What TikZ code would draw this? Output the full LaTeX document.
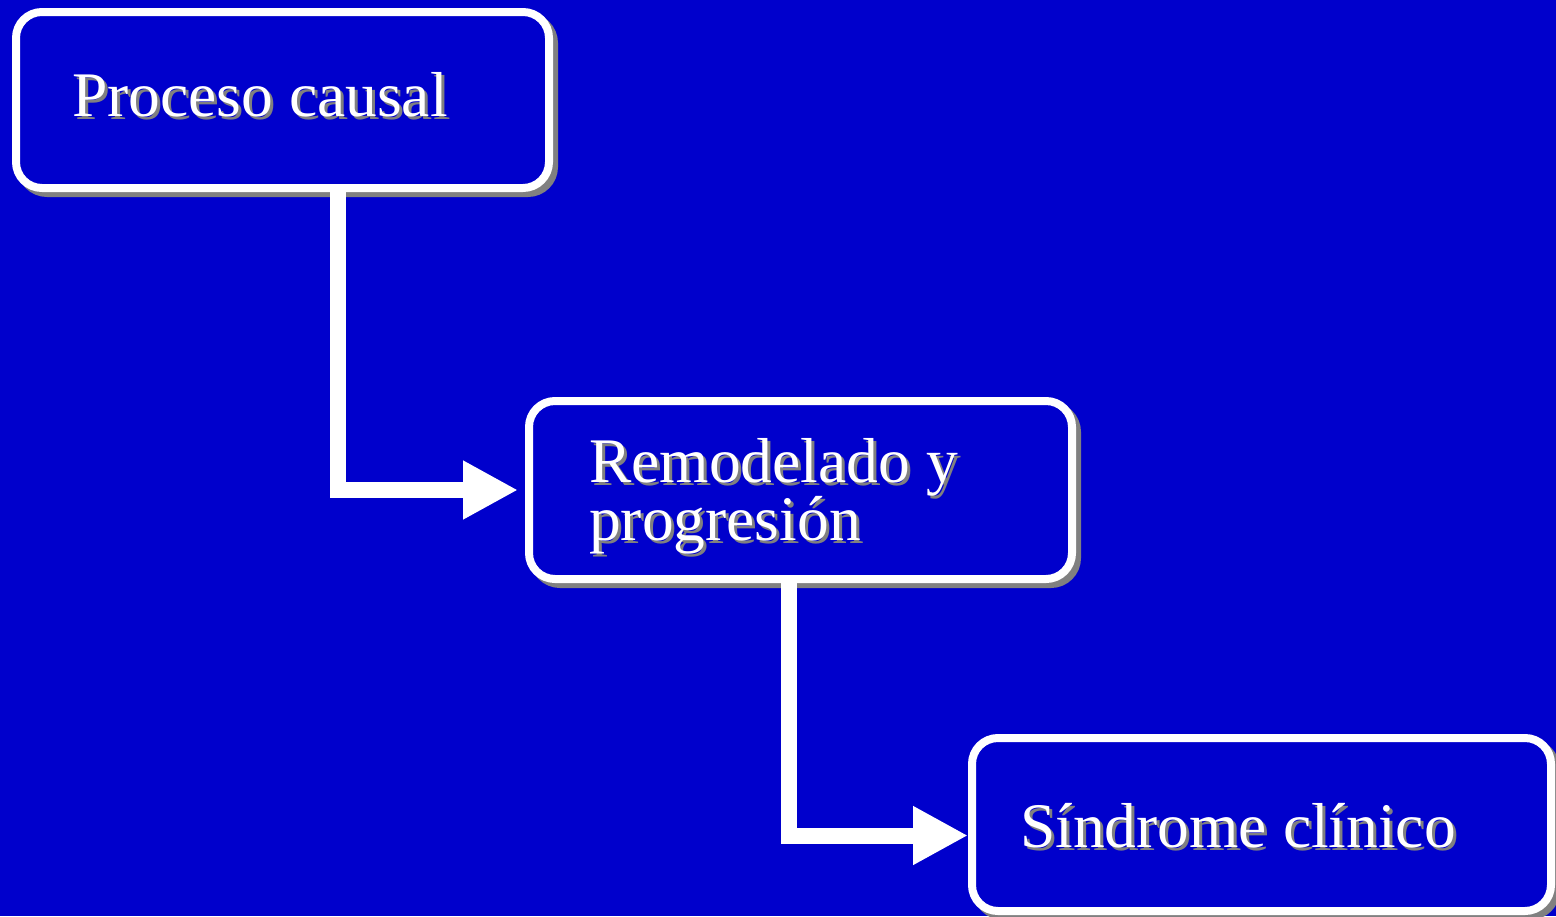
\documentclass[tikz,border=0pt]{standalone}
\usepackage{fontspec}
\setmainfont{Liberation Serif}
\usetikzlibrary{arrows.meta}
\definecolor{bg}{RGB}{0,0,204}
\definecolor{shade}{RGB}{128,128,128}
\tikzset{
  box/.style={draw=white, fill=bg, line width=8pt, rounded corners=26pt, inner sep=0pt},
  boxshadow/.style={draw=shade, fill=shade, line width=8pt, rounded corners=26pt, inner sep=0pt},
  label/.style={text=white, inner sep=0pt, anchor=base west, align=left, font=\fontsize{63.5}{58}\selectfont},
  labelshadow/.style={label, text=shade},
  conn/.style={draw=white, line width=16pt, line join=miter, line cap=butt,
    -{Triangle[length=55pt, width=55pt]}},
}
\begin{document}
\begin{tikzpicture}[x=1pt, y=-1pt]
\fill[bg] (0,0) rectangle (1556,916);
\useasboundingbox (0,0) rectangle (1556,916);
% shadows
\node[boxshadow, minimum width=533pt, minimum height=176pt] (s1) at (287.5,105) {};
\node[boxshadow, minimum width=543pt, minimum height=178pt] (s2) at (805.5,495) {};
\node[boxshadow, minimum width=579pt, minimum height=173pt] (s3) at (1266.5,829.5) {};
% boxes
\node[box, minimum width=533pt, minimum height=176pt] (b1) at (282.5,100) {};
\node[box, minimum width=543pt, minimum height=178pt] (b2) at (800.5,490) {};
\node[box, minimum width=579pt, minimum height=173pt] (b3) at (1261.5,824.5) {};
% texts
\node[labelshadow] (t1s) at (75,119) {Proceso causal};
\node[label] (t1) at (72,116) {Proceso causal};
\node[labelshadow] (t2s) at (592,543) {Remodelado y\\progresión};
\node[label] (t2) at (589,540) {Remodelado y\\progresión};
\node[labelshadow] (t3s) at (1023,850) {Síndrome clínico};
\node[label] (t3) at (1020,847) {Síndrome clínico};
% connectors
\draw[conn] ([xshift=55.5pt]b1.south) |- ([xshift=-7pt]b2.west);
\draw[conn] ([xshift=-11.5pt]b2.south) |- ([yshift=-11pt]b3.west);
\end{tikzpicture}
\end{document}
